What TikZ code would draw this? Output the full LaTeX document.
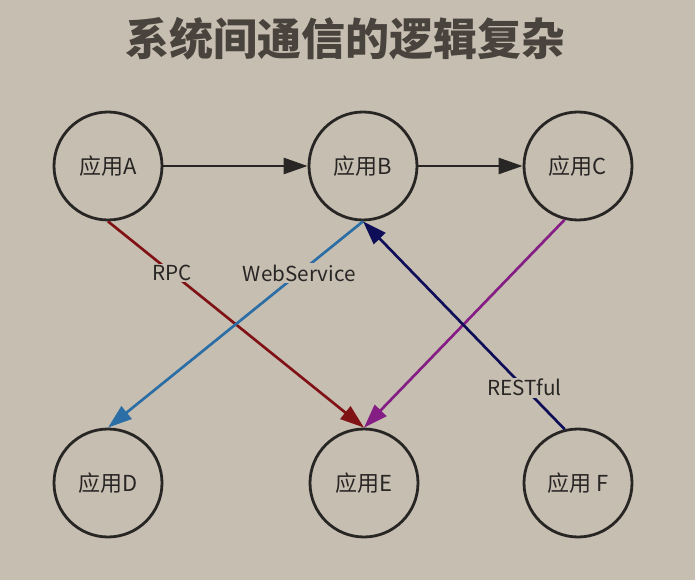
\documentclass[tikz,border=0pt]{standalone}
\usepackage{fontspec}
\setmainfont{Noto Sans CJK SC}
\usepackage{tikz}
\usetikzlibrary{arrows.meta}

\definecolor{paper}{RGB}{199,190,178}
\definecolor{ink}{RGB}{40,38,36}
\definecolor{titleink}{RGB}{72,67,61}
\definecolor{rpcred}{RGB}{128,18,22}
\definecolor{wsblue}{RGB}{42,110,165}
\definecolor{cpurple}{RGB}{132,30,132}
\definecolor{restnavy}{RGB}{14,14,88}

\tikzset{
    app/.style={circle, draw=ink, line width=2.1pt, minimum size=81pt,
        inner sep=0pt, font=\fontsize{16.5}{19}\selectfont, text=ink},
    link/.style={line width=2pt, -{Triangle[length=18pt,width=12pt]}},
    tag/.style={fill=paper, inner sep=1pt, font=\fontsize{15.5}{18}\selectfont, text=ink}
}

\begin{document}
\begin{tikzpicture}[x=0.75pt, y=-0.75pt]
    \fill[paper] (0,0) rectangle (695,580);
    \useasboundingbox (0,0) rectangle (695,580);

    \node[font=\fontsize{33}{38}\selectfont\bfseries, text=titleink] (title) at (345,39) {系统间通信的逻辑复杂};

    \node[app] (A) at (108,166) {应用A};
    \node[app] (B) at (363,166) {应用B};
    \node[app] (C) at (578,166) {应用C};
    \node[app] (D) at (108,483) {应用D};
    \node[app] (E) at (364,483) {应用E};
    \node[app] (F) at (578,483) {应用 F};

    \draw[link, ink] (A) -- (B);
    \draw[link, ink] (B) -- (C);

    \draw[link, rpcred] (A.south) -- node[tag, pos=0.25] {RPC} (E.north);
    \draw[link, wsblue] (B.south) -- node[tag, pos=0.25] {WebService} (D.north);
    \draw[link, cpurple] (C.256) -- (E.north);
    \draw[link, restnavy] (F.104) -- node[tag, pos=0.2] {RESTful} (B.south);
\end{tikzpicture}
\end{document}
